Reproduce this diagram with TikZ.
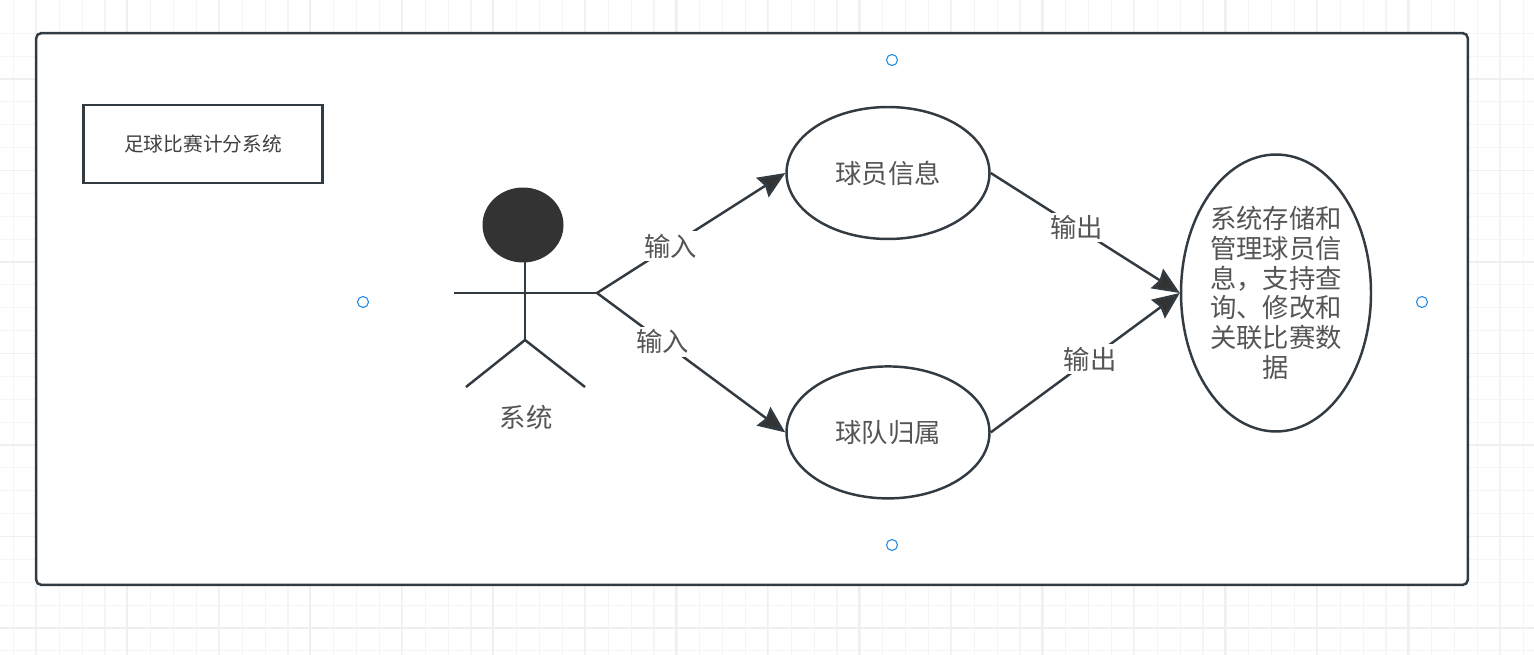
\documentclass[tikz,border=0pt]{standalone}
\usepackage{fontspec}
\setmainfont{Noto Sans CJK SC}
\usetikzlibrary{arrows.meta,positioning,shapes.geometric}
\definecolor{linedark}{HTML}{323A42}
\definecolor{fillgray}{HTML}{333333}
\definecolor{textgray}{HTML}{555555}
\definecolor{handleblue}{HTML}{1E88E5}
\definecolor{gridminor}{HTML}{F5F5F5}
\definecolor{gridmajor}{HTML}{EFEFEF}

\begin{document}
\begin{tikzpicture}[x=0.02cm, y=-0.02cm, node distance=0.2cm,
      frame/.style={draw=linedark, fill=white, line width=1.4pt, rounded corners=3pt, minimum width=28.64cm, minimum height=11.04cm},
      title/.style={draw=linedark, line width=1.4pt, minimum width=4.78cm, minimum height=1.56cm, font=\fontsize{11.2pt}{13pt}\selectfont, text=black!75},
      usecase/.style={ellipse, draw=linedark, line width=1.4pt, inner sep=0pt, minimum width=4.06cm, minimum height=2.64cm, align=center, font=\fontsize{15pt}{17pt}\selectfont, text=textgray},
      bigcase/.style={usecase, minimum width=3.8cm, minimum height=5.54cm},
      handle/.style={circle, draw=handleblue, fill=white, line width=0.6pt, inner sep=0pt, minimum size=0.22cm},
      lbl/.style={fill=white, inner sep=1.5pt, font=\fontsize{15pt}{17pt}\selectfont, text=textgray},
      limb/.style={linedark, line width=1.4pt},
      arr/.style={-{Stealth[length=0.54cm, width=0.46cm, inset=0.06cm, fill=fillgray]}, linedark, line width=1.4pt}]
    \useasboundingbox (0,0) rectangle (1534,655);
    % grid
    \foreach \i in {0,...,67} \draw[gridminor, line width=0.7pt] ({13.5+\i*22.875},0) -- ({13.5+\i*22.875},655);
    \foreach \i in {0,...,28} \draw[gridminor, line width=0.7pt] (0,{33.25+\i*22.875}) -- (1534,{33.25+\i*22.875});
    \foreach \i in {0,...,16} \draw[gridmajor, line width=0.9pt] ({35.5+\i*91.5},0) -- ({35.5+\i*91.5},655);
    \foreach \i in {0,...,6} \draw[gridmajor, line width=0.9pt] (0,{79+\i*91.5}) -- (1534,{79+\i*91.5});

    \node[frame] (outer) at (752,309) {};
    \node[title] (sys) at (203,144) {足球比赛计分系统};

    % handles
    \node[handle] (hl) at (363,302) {};
    \node[handle] (hr) at (1422,302) {};
    \node[handle] (ht) at (892,60) {};
    \node[handle] (hb) at (892,545) {};

    % actor
    \node[ellipse, fill=fillgray, minimum width=1.62cm, minimum height=1.5cm, inner sep=0pt] (head) at (523,225) {};
    \coordinate (armL) at (454,293);
    \coordinate (armR) at (597,293);
    \coordinate (neck) at (525,262);
    \coordinate (hip) at (525,340);
    \coordinate (footL) at (466,387);
    \coordinate (footR) at (585,387);
    \draw[limb] (armL) -- (armR); \draw[limb] (neck) -- (hip);
    \draw[limb] (footL) -- (hip) -- (footR);
    \node[lbl, fill=none] (actor) at (526,417) {系统};

    % use cases
    \node[usecase] (player) at (888,173) {球员信息};
    \node[usecase, below=2.5cm of player] (team) {球队归属};
    \node[bigcase] (store) at (1276,293) {系统存储和\\管理球员信\\息，支持查\\询、修改和\\关联比赛数\\据};

    \draw[arr] (armR) -- node[lbl, pos=0.39] (in1) {输入} (player.west);
    \draw[arr] (armR) -- node[lbl, pos=0.35] (in2) {输入} (team.west);
    \draw[arr] (player.east) -- node[lbl, pos=0.453] (out1) {输出} (store.west);
    \draw[arr] (team.east) -- node[lbl, pos=0.526] (out2) {输出} (store.west);
  \end{tikzpicture}
\end{document}
